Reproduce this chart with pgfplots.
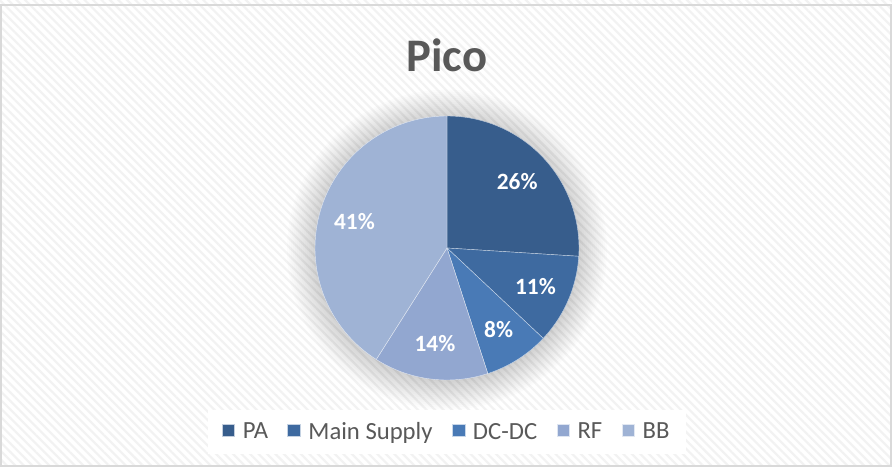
\documentclass[border=0pt]{standalone}
\usepackage{pgfplots}
\pgfplotsset{compat=1.18}
\usepackage{pgfplotstable}
\usepackage{fontspec}
\setmainfont{Carlito}
\usetikzlibrary{patterns.meta}

\definecolor{cPA}{RGB}{55,93,140}
\definecolor{cMS}{RGB}{62,106,160}
\definecolor{cDC}{RGB}{73,122,182}
\definecolor{cRF}{RGB}{146,167,208}
\definecolor{cBB}{RGB}{159,179,213}
\definecolor{textgray}{RGB}{89,89,89}
\definecolor{bordergray}{RGB}{217,217,217}
\definecolor{stripe}{RGB}{242,242,242}

\pgfplotstableread[col sep=comma]{
label,value,color
PA,26,cPA
Main Supply,11,cMS
DC-DC,8,cDC
RF,14,cRF
BB,41,cBB
}\piedata

\tikzset{pielabel/.style={font=\bfseries\fontsize{17.5}{21}\selectfont, text=white, inner sep=0pt}}

\begin{document}
\begin{tikzpicture}
\useasboundingbox (0,0) rectangle (669pt,350.25pt);
\fill[white] (0,0) rectangle (669pt,350.25pt);
\fill[pattern={Lines[angle=-45,distance=4.5pt,line width=1.6pt]}, pattern color=stripe] (0,0) rectangle (669pt,350.25pt);
\draw[bordergray, line width=1pt] (0.75pt,0.75pt) rectangle (668.25pt,346.5pt);
\foreach \r in {99,100.5,...,120}{
  \fill[black, opacity=0.013] (335.25pt,163pt) circle (\r pt);
}
\node[font=\bfseries\fontsize{35}{40}\selectfont, text=textgray] at (335.25pt,309pt) {Pico};
\begin{axis}[
  at={(335.25pt,164.25pt)}, anchor=center,
  scale only axis, width=198pt, height=198pt,
  xmin=-1, xmax=1, ymin=-1, ymax=1,
  hide axis, clip=false,
  legend columns=5,
  legend style={at={(0.5,-0.197)}, anchor=center, draw=none, fill=white,
    font=\fontsize{18.5}{22}\selectfont, text=textgray,
    inner xsep=10pt, inner ysep=7pt,
    /tikz/every odd column/.append style={column sep=4pt},
    /tikz/every even column/.append style={column sep=12.5pt}},
  legend image code/.code={\fill[#1] (0pt,-3.5pt) rectangle (9.5pt,6pt);},
]
\def\cum{0}
\pgfplotsforeachungrouped \i in {0,...,4}{%
  \pgfplotstablegetelem{\i}{value}\of\piedata \let\v\pgfplotsretval
  \pgfplotstablegetelem{\i}{color}\of\piedata \let\c\pgfplotsretval
  \pgfplotstablegetelem{\i}{label}\of\piedata \let\lab\pgfplotsretval
  \pgfmathsetmacro\a{90-3.6*(\cum+\v)}
  \pgfmathsetmacro\b{90-3.6*\cum}
  \pgfmathsetmacro\m{(\a+\b)/2}
  \pgfmathsetmacro\lx{0.73*cos(\m)}
  \pgfmathsetmacro\ly{0.73*sin(\m)}
  \edef\temp{%
    \noexpand\addplot[fill=\c, draw=white!70!\c, line width=0.3pt, domain=\a:\b, samples=90]
      ({cos(x)},{sin(x)}) -- (axis cs:0,0) -- cycle;
    \noexpand\addlegendentry{\lab}
    \noexpand\node[pielabel] at (axis cs:\lx,\ly) {\v\noexpand\%};
  }%
  \temp
  \pgfmathsetmacro\cum{\cum+\v}
}
\end{axis}
\end{tikzpicture}
\end{document}
